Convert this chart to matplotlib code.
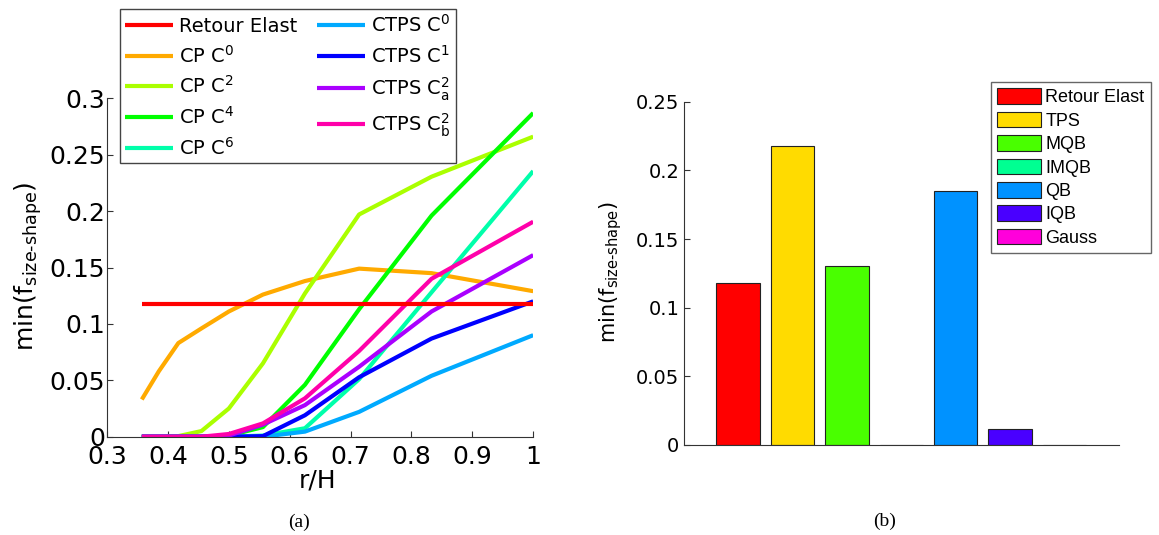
import matplotlib
matplotlib.use('Agg')
import matplotlib.pyplot as plt

plt.rcParams['font.family'] = ['DejaVu Sans']
plt.rcParams['mathtext.default'] = 'regular'
plt.rcParams['mathtext.fontset'] = 'dejavusans'

# ---------------- data: panel (a) ----------------
r_over_h = [0.357, 0.385, 0.417, 0.455, 0.5, 0.556, 0.625, 0.714, 0.833, 1.0]
retour_elast = [0.118, 0.118, 0.118, 0.118, 0.118, 0.118, 0.118, 0.118, 0.118, 0.118]
cp_c0 = [0.033, 0.058, 0.083, 0.096, 0.111, 0.126, 0.138, 0.149, 0.145, 0.129]
cp_c2 = [0.0, 0.0, 0.0005, 0.005, 0.025, 0.065, 0.127, 0.197, 0.2305, 0.266]
cp_c4 = [0.0, 0.0, 0.0, 0.0, 0.001, 0.0085, 0.046, 0.113, 0.196, 0.287]
cp_c6 = [0.0, 0.0, 0.0, 0.0, 0.0, 0.001, 0.0075, 0.051, 0.128, 0.2355]
ctps_c0 = [0.0, 0.0, 0.0, 0.0, 0.0, 0.0, 0.0045, 0.022, 0.054, 0.090]
ctps_c1 = [0.0, 0.0, 0.0, 0.0, 0.0, 0.0005, 0.019, 0.0527, 0.087, 0.120]
ctps_c2a = [0.0, 0.0, 0.0, 0.0, 0.001, 0.0107, 0.028, 0.062, 0.111, 0.161]
ctps_c2b = [0.0, 0.0, 0.0, 0.0, 0.0024, 0.0118, 0.034, 0.076, 0.140, 0.1906]

line_labels = ['Retour Elast', 'CP C$^{0}$', 'CP C$^{2}$', 'CP C$^{4}$', 'CP C$^{6}$',
               'CTPS C$^{0}$', 'CTPS C$^{1}$', 'CTPS C$^{2}_{a}$', 'CTPS C$^{2}_{b}$']
line_colors = ['#FF0000', '#FFAA00', '#AAFF00', '#00FF00', '#00FFAA',
               '#00AAFF', '#0000FF', '#AA00FF', '#FF00AA']
x_ticks_a = [0.3, 0.4, 0.5, 0.6, 0.7, 0.8, 0.9, 1.0]
x_ticklabels_a = ['0.3', '0.4', '0.5', '0.6', '0.7', '0.8', '0.9', '1']
y_ticks_a = [0, 0.05, 0.1, 0.15, 0.2, 0.25, 0.3]
y_ticklabels_a = ['0', '0.05', '0.1', '0.15', '0.2', '0.25', '0.3']

# ---------------- data: panel (b) ----------------
methods = ['Retour Elast', 'TPS', 'MQB', 'IMQB', 'QB', 'IQB', 'Gauss']
method_values = [0.118, 0.218, 0.1305, 0.0, 0.185, 0.012, 0.0]
method_colors = ['#FF0000', '#FFDB00', '#49FF00', '#00FF92', '#0092FF', '#4900FF', '#FF00DB']
y_ticks_b = [0, 0.05, 0.1, 0.15, 0.2, 0.25]
y_ticklabels_b = ['0', '0.05', '0.1', '0.15', '0.2', '0.25']

W, H = 1159, 535
fig = plt.figure(figsize=(W / 100, H / 100), dpi=100)

def fx(px):
    return px / W

def fy(py):
    return 1 - py / H

# ---------------- panel (a) ----------------
ax1 = fig.add_axes([fx(107.1), fy(436.7), fx(533.2) - fx(107.1), fy(98.3) - fy(436.7)])
series = [retour_elast, cp_c0, cp_c2, cp_c4, cp_c6, ctps_c0, ctps_c1, ctps_c2a, ctps_c2b]
handles = []
for i, (vals, lab, col) in enumerate(zip(series, line_labels, line_colors)):
    h, = ax1.plot(r_over_h, vals, color=col, lw=3, label=lab,
                  zorder=3 if i == 0 else 2, solid_capstyle='butt')
    handles.append(h)
ax1.set_xlim(0.3, 1.0)
ax1.set_ylim(0, 0.3)
ax1.set_xticks(x_ticks_a)
ax1.set_xticklabels(x_ticklabels_a)
ax1.set_yticks(y_ticks_a)
ax1.set_yticklabels(y_ticklabels_a)
for s in ['top', 'right']:
    ax1.spines[s].set_visible(False)
for s in ['left', 'bottom']:
    ax1.spines[s].set_linewidth(0.8)
    ax1.spines[s].set_color('#333333')
ax1.tick_params(axis='both', direction='in', length=4, width=0.8, labelsize=18,
                colors='#333333', labelcolor='black')
ax1.tick_params(axis='x', pad=6)
ax1.tick_params(axis='y', pad=1.5)
ax1.set_xlabel('r/H', fontsize=18)
ax1.xaxis.set_label_coords(fx(318), fy(481), transform=fig.transFigure)
ax1.xaxis.label.set_va('center')
ax1.set_ylabel('min(f$_{size‐shape}$)', fontsize=18)
ax1.yaxis.set_label_coords(fx(28), fy(266), transform=fig.transFigure)
ax1.yaxis.label.set_va('center')

leg1 = fig.legend(handles, line_labels, ncol=2, loc='upper left',
                  bbox_to_anchor=(fx(119.7), fy(9)), bbox_transform=fig.transFigure,
                  fontsize=14, handlelength=2.5, handletextpad=0.3, columnspacing=1.0,
                  labelspacing=0.45, borderpad=0.25, borderaxespad=0,
                  fancybox=False, framealpha=1, edgecolor='#444444')
leg1.get_frame().set_linewidth(1.0)

fig.text(fx(299), fy(522), '(a)', family='Liberation Serif', fontsize=14, ha='center', va='center')

# ---------------- panel (b) ----------------
ax2 = fig.add_axes([fx(683.6), fy(445), fx(1119) - fx(683.6), fy(101.7) - fy(445)])
positions = list(range(1, len(methods) + 1))
bars = ax2.bar(positions, method_values, width=0.8, color=method_colors,
               edgecolor='#222222', linewidth=0.8, zorder=2)
ax2.set_xlim(0, 8)
ax2.set_ylim(0, 0.25)
ax2.set_xticks([])
ax2.set_yticks(y_ticks_b)
ax2.set_yticklabels(y_ticklabels_b)
for s in ['top', 'right']:
    ax2.spines[s].set_visible(False)
for s in ['left', 'bottom']:
    ax2.spines[s].set_linewidth(0.8)
    ax2.spines[s].set_color('#333333')
ax2.tick_params(axis='y', direction='in', length=4, width=0.8, labelsize=14, pad=3,
                colors='#333333', labelcolor='black')
ax2.set_ylabel('min(f$_{size‐shape}$)', fontsize=15)
ax2.yaxis.set_label_coords(fx(611), fy(272), transform=fig.transFigure)
ax2.yaxis.label.set_va('center')

leg2 = fig.legend(list(bars), methods, loc='upper left',
                  bbox_to_anchor=(fx(991), fy(82)), bbox_transform=fig.transFigure,
                  prop={'family': 'Liberation Sans', 'size': 13},
                  handlelength=2.4, handleheight=0.95, handletextpad=0.25,
                  labelspacing=0.3, borderpad=0.35, borderaxespad=0,
                  fancybox=False, framealpha=1, edgecolor='#666666')
leg2.get_frame().set_linewidth(1.0)

fig.text(fx(885), fy(521), '(b)', family='Liberation Serif', fontsize=14, ha='center', va='center')

fig.savefig('out.png', dpi=100)
